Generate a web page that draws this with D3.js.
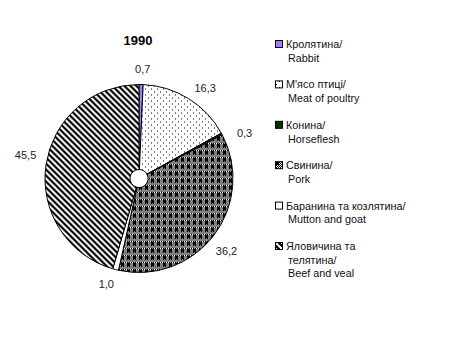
<!DOCTYPE html>
<html>
<head>
<meta charset="utf-8">
<script src="https://cdn.jsdelivr.net/npm/d3@7"></script>
<style>
  body { margin: 0; background: #fff; }
  text { font-family: "Liberation Sans", Arial, sans-serif; }
</style>
</head>
<body>
<div id="chart"></div>
<script>
// 1990 meat structure, %
var title = '1990';
var values = [0.7, 16.3, 0.3, 36.2, 1.0, 45.5];
var valueLabels = ['0,7', '16,3', '0,3', '36,2', '1,0', '45,5'];
var legendText = [
  ['Кролятина/', 'Rabbit'],
  ['М\'ясо птиці/', 'Meat of poultry'],
  ['Конина/', 'Horseflesh'],
  ['Свинина/', 'Pork'],
  ['Баранина та козлятина/', 'Mutton and goat'],
  ['Яловичина та', 'телятина/', 'Beef and veal']
];
var fills = ['#a07cf8', 'url(#dots)', '#003300', 'url(#check)', '#ffffff', 'url(#stripes)'];

var width = 467, height = 353;
var cx = 139, cy = 178.5, R = 94, r0 = 9;

var svg = d3.select('#chart').append('svg')
    .attr('width', width)
    .attr('height', height);

// Patterns
var defs = svg.append('defs');

var dots = defs.append('pattern').attr('id', 'dots')
    .attr('patternUnits', 'userSpaceOnUse')
    .attr('width', 6).attr('height', 6);
dots.append('rect').attr('width', 6).attr('height', 6).attr('fill', '#fff');
dots.append('rect').attr('x', 0).attr('y', 0).attr('width', 1).attr('height', 1).attr('fill', '#000');
dots.append('rect').attr('x', 3).attr('y', 3).attr('width', 1).attr('height', 1).attr('fill', '#000');

// fine checker with bigger black blocks
var check = defs.append('pattern').attr('id', 'check')
    .attr('patternUnits', 'userSpaceOnUse')
    .attr('width', 6).attr('height', 7);
check.append('rect').attr('width', 6).attr('height', 7).attr('fill', '#fff');
for (var i = 0; i < 6; i++) {
  for (var j = 0; j < 7; j++) {
    if ((i + j) % 2 === 0) {
      check.append('rect').attr('x', i).attr('y', j).attr('width', 1).attr('height', 1).attr('fill', '#000');
    }
  }
}
check.append('rect').attr('x', 0).attr('y', 0).attr('width', 3).attr('height', 4).attr('fill', '#000');

var stripes = defs.append('pattern').attr('id', 'stripes')
    .attr('patternUnits', 'userSpaceOnUse')
    .attr('width', 6).attr('height', 6);
stripes.append('rect').attr('width', 6).attr('height', 6).attr('fill', '#fff');
stripes.append('path')
    .attr('d', 'M-1,-1 L7,7 M-4,2 L2,8 M2,-4 L8,2')
    .attr('stroke', '#000')
    .attr('stroke-width', 2.2);

// Title
svg.append('text')
    .attr('x', 138).attr('y', 45)
    .attr('text-anchor', 'middle')
    .attr('font-size', 13)
    .attr('font-weight', 'bold')
    .text(title);

// Pie
var pie = d3.pie().sort(null).value(d => d);
var arcs = pie(values);
var arc = d3.arc().innerRadius(r0).outerRadius(R);

var g = svg.append('g').attr('transform', 'translate(' + cx + ',' + cy + ')');

g.selectAll('path.slice')
    .data(arcs)
    .enter()
    .append('path')
      .attr('class', 'slice')
      .attr('d', arc)
      .attr('fill', (d, i) => fills[i])
      .attr('stroke', '#000')
      .attr('stroke-width', 1);

// Data labels, placed just outside the rim (nudged a little clockwise, like Excel)
var labAngle = d => {
  var a = (d.startAngle + d.endAngle) / 2;
  return a + 4 * Math.PI / 180 * Math.sqrt(Math.abs(Math.sin(a)));
};
g.selectAll('text.lab')
    .data(arcs)
    .enter()
    .append('text')
      .attr('class', 'lab')
      .attr('font-size', 11)
      .attr('fill', '#222')
      .attr('text-anchor', 'middle')
      .attr('x', d => {
        var a = labAngle(d);
        return (R + 12) * Math.sin(a) + 10 * Math.sin(a);
      })
      .attr('y', d => {
        var a = labAngle(d);
        return -(R + 12) * Math.cos(a) - 4 * Math.cos(a) + 4;
      })
      .text((d, i) => valueLabels[i]);

// Legend
var legY = d3.scaleLinear().domain([0, 5]).range([48, 250]);
var leg = svg.append('g').attr('class', 'legend');

legendText.forEach((lines, i) => {
  var y0 = legY(i);
  leg.append('rect')
      .attr('x', 275.5).attr('y', y0 - 7.5)
      .attr('width', 7).attr('height', 7)
      .attr('fill', fills[i])
      .attr('stroke', '#000')
      .attr('stroke-width', 1);
  lines.forEach((t, k) => {
    leg.append('text')
        .attr('x', k === 0 ? 286 : 288)
        .attr('y', y0 + k * 13.7)
        .attr('font-size', 10.8)
        .attr('fill', '#111')
        .text(t);
  });
});
</script>
</body>
</html>
